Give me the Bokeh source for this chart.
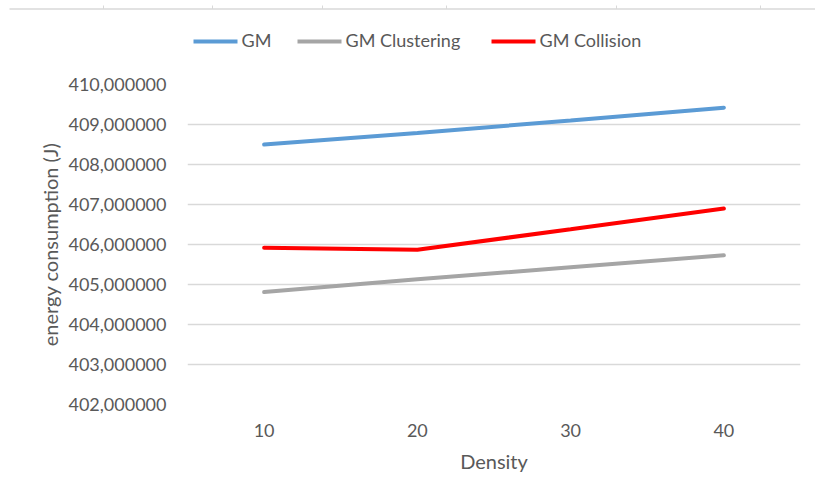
from bokeh.plotting import figure
from bokeh.layouts import column
from bokeh.models import (FactorRange, Range1d, CustomJSTickFormatter, FixedTicker,
                          ColumnDataSource)
from bokeh.core.properties import value
from bokeh.embed import file_html
from bokeh.resources import INLINE

densities = ["10", "20", "30", "40"]
series_names = ["GM", "GM Clustering", "GM Collision"]
gm = [408500000, 408790000, 409100000, 409420000]
gm_clustering = [404810000, 405130000, 405430000, 405730000]
gm_collision = [405920000, 405870000, 406380000, 406900000]
y_ticks = [402000000, 403000000, 404000000, 405000000, 406000000,
           407000000, 408000000, 409000000, 410000000]

FONT = "Lato"
TXT = "#595959"
GRID = "#d9d9d9"
COLORS = ["#5B9BD5", "#A5A5A5", "#FF0000"]

# header strip: remnant sheet line + legend (screen-like coordinates)
top = figure(width=815, height=62, output_backend="svg", toolbar_location=None,
             x_range=Range1d(0, 815), y_range=Range1d(62, 0),
             min_border=0, min_border_left=0, min_border_right=0,
             min_border_top=0, min_border_bottom=0, frame_align=False)
top.axis.visible = False
top.grid.visible = False
top.outline_line_color = None
top.segment(x0=[9], y0=[8.5], x1=[815], y1=[8.5], line_color=GRID, line_width=1.5)
tick_x = [103, 212, 322, 446, 616, 760]
top.segment(x0=tick_x, y0=[8.5] * 6, x1=tick_x, y1=[5] * 6, line_color=GRID, line_width=1)

leg_x0 = [193, 297, 491]
leg_y = 41
top.segment(x0=leg_x0, y0=[leg_y] * 3, x1=[x + 44 for x in leg_x0], y1=[leg_y] * 3,
            line_color=COLORS, line_width=4)
top.text(x=[x + 48 for x in leg_x0], y=[leg_y - 1.5] * 3, text=series_names,
         text_font=value(FONT), text_font_size="18px", text_color=TXT,
         text_baseline="middle", text_align="left")

p = figure(width=815, height=438, output_backend="svg", toolbar_location=None,
           x_range=FactorRange(*densities, range_padding=0),
           y_range=Range1d(402000000, 410000000),
           min_border_left=187, min_border_right=15, min_border_top=22, min_border_bottom=96,
           frame_align=False)
p.outline_line_color = None

src = ColumnDataSource(dict(x=densities, gm=gm, gmc=gm_clustering, gmcol=gm_collision))
p.line("x", "gm", source=src, line_color=COLORS[0], line_width=4, line_cap="round")
p.line("x", "gmc", source=src, line_color=COLORS[1], line_width=4, line_cap="round")
p.line("x", "gmcol", source=src, line_color=COLORS[2], line_width=4, line_cap="round")

p.yaxis.ticker = FixedTicker(ticks=y_ticks)
p.yaxis.formatter = CustomJSTickFormatter(code="""
const m = Math.round(tick/1000000);
return m + ',000000';
""")
for ax in (p.xaxis[0], p.yaxis[0]):
    ax.axis_line_color = None
    ax.major_tick_line_color = None
    ax.minor_tick_line_color = None
    ax.major_label_text_font = FONT
    ax.major_label_text_font_size = "18px"
    ax.major_label_text_color = TXT
    ax.axis_label_text_font = FONT
    ax.axis_label_text_font_size = "20px"
    ax.axis_label_text_color = TXT
    ax.axis_label_text_font_style = "normal"

p.yaxis.axis_label = "energy consumption (J)"
p.yaxis.major_label_standoff = 15
p.yaxis.axis_label_standoff = 3
p.xaxis.axis_label = "Density"
p.xaxis.major_label_standoff = 13
p.xaxis.axis_label_standoff = 9

p.xgrid.grid_line_color = None
p.ygrid.grid_line_color = GRID
p.ygrid.grid_line_width = 1.3

layout = column(top, p, spacing=0)
open("out.html", "w").write(file_html(layout, INLINE))
